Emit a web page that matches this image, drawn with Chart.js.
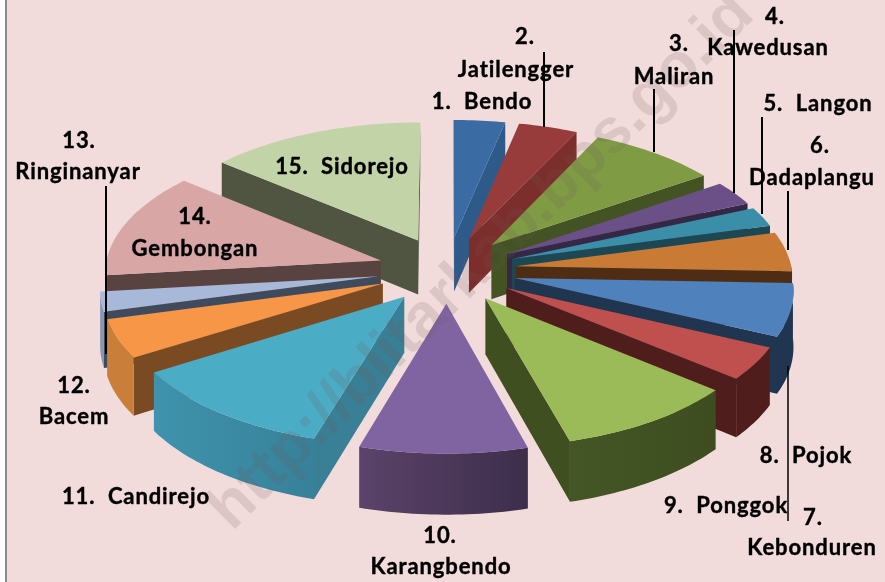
<!DOCTYPE html>
<html>
<head>
<meta charset="utf-8">
<style>
  html, body { margin: 0; padding: 0; background: #fff; }
  #pie { display: block; }
</style>
<script src="https://cdn.jsdelivr.net/npm/chart.js@4"></script>
</head>
<body>
<canvas id="pie" width="885" height="582"></canvas>
<script>
// villages, clockwise from the top
var categories = ['Bendo', 'Jatilengger', 'Maliran', 'Kawedusan', 'Langon', 'Dadaplangu', 'Kebonduren', 'Pojok',
  'Ponggok', 'Karangbendo', 'Candirejo', 'Bacem', 'Ringinanyar', 'Gembongan', 'Sidorejo'];
// share of the pie
var shares = [3.3, 3.8, 8.3, 3.0, 2.4, 4.8, 6.4, 4.0, 9.7, 8.9, 11.5, 4.7, 2.4, 12.9, 13.9];

var topColors = ['#3a6ca3', '#973c3a', '#7f9c45', '#6b5088', '#3b8ea7', '#c97b36', '#4f81bd', '#c0504d',
  '#9bbb59', '#8064a2', '#4bacc6', '#f79646', '#a7b8d8', '#d7a6a5', '#c3d3a8'];
var sideColors = ['#2e5a8a', '#7c2e2c', '#435324', '#352846', '#1d4753', '#4f2d15', '#1f3550', '#4f1e1c',
  '#3f4f20', '#4a3658', '#397f95', '#7a4b22', '#3f4a5c', '#584341', '#4f5540'];
// outer wall, left and right end of the gradient
var wallLeft = ['#2e5a8a', '#7c2e2c', '#435324', '#352846', '#1d4753', '#4f2d15', '#1f3550', '#4f1e1c',
  '#445626', '#5b4369', '#3f93ac', '#c97e3a', '#8795b0', '#584341', '#4f5540'];
var wallRight = ['#2e5a8a', '#7c2e2c', '#435324', '#352846', '#1d4753', '#4f2d15', '#1f3550', '#4f1e1c',
  '#3d4d1f', '#3d2e4c', '#37819a', '#c97e3a', '#8795b0', '#584341', '#4f5540'];

// x, y of each label; two lines when the number sits on its own row
var labelSpots = [
  [482, 102], [525, 37, 516, 70], [679, 44, 674, 77], [775, 17, 768, 48], [818, 104], [820, 146, 812, 178],
  [813, 518, 812, 548], [806, 456], [726, 506], [440, 536, 441, 567], [136, 497], [74, 386, 74, 417],
  [79, 141, 78, 172], [195, 217, 195, 249], [342, 167]
];
// leader lines: x, y from, y to, width
var leaders = [
  [544, 52, 127, 2], [654, 89, 152, 2], [734, 30, 193, 2], [762, 117, 214, 2], [788, 191, 250, 2],
  [788, 366, 521, 1.5], [106, 186, 354, 2]
];

var view = { cx: 447, cy: 270, a: 276, b: 132, k: 0.08, depth: 55 };

function project(u, v, z) {
  var w = 1 + view.k * v;
  return [view.cx + view.a * u / w, view.cy - (view.b * v - z * view.depth) / w];
}

function wedgePoint(e, bis, ang, rad, z) {
  return project(e * Math.cos(bis) + rad * Math.cos(ang), -e * Math.sin(bis) - rad * Math.sin(ang), z);
}

function trace(ctx, pts) {
  ctx.beginPath();
  pts.forEach(function(p, i) {
    if (i) ctx.lineTo(p[0], p[1]); else ctx.moveTo(p[0], p[1]);
  });
  ctx.closePath();
}

function arcPoints(e, bis, from, to, z) {
  var pts = [];
  var n = Math.max(2, Math.ceil(Math.abs(to - from) / 0.02));
  for (var i = 0; i <= n; i++) pts.push(wedgePoint(e, bis, from + (to - from) * i / n, 1, z));
  return pts;
}

function sideVisible(a, p, q) {
  var dx = p[0] - a[0], dy = p[1] - a[1];
  return (dx * (q[1] - a[1]) - dy * (q[0] - a[0])) * dx < 0;
}

function drawSlice(ctx, arc, i) {
  var e = arc.options.offset / arc.outerRadius;
  var s = arc.startAngle, t = arc.endAngle, bis = (s + t) / 2;
  var apex = wedgePoint(e, bis, 0, 0, 0), apexLow = wedgePoint(e, bis, 0, 0, 1);
  var ps = wedgePoint(e, bis, s, 1, 0), pt = wedgePoint(e, bis, t, 1, 0);

  ctx.fillStyle = sideColors[i];
  if (sideVisible(apex, ps, pt)) {
    trace(ctx, [apex, ps, wedgePoint(e, bis, s, 1, 1), apexLow]);
    ctx.fill();
  }
  if (sideVisible(apex, pt, ps)) {
    trace(ctx, [apex, pt, wedgePoint(e, bis, t, 1, 1), apexLow]);
    ctx.fill();
  }

  // outer wall, only the part that faces the viewer (angles 0..PI on the canvas)
  var from = Math.max(s, 0), to = Math.min(t, Math.PI);
  if (to > from) {
    var upper = arcPoints(e, bis, from, to, 0);
    var lower = arcPoints(e, bis, from, to, 1).reverse();
    var xs = upper.map(function(p) { return p[0]; });
    var g = ctx.createLinearGradient(Math.min.apply(null, xs), 0, Math.max.apply(null, xs), 0);
    g.addColorStop(0, wallLeft[i]);
    g.addColorStop(1, wallRight[i]);
    ctx.fillStyle = g;
    trace(ctx, upper.concat(lower));
    ctx.fill();
  }

  ctx.fillStyle = arc.options.backgroundColor;
  trace(ctx, [apex].concat(arcPoints(e, bis, s, t, 0)));
  ctx.fill();
}

var pie3d = {
  id: 'pie3d',
  beforeDraw: function(chart) {
    var ctx = chart.ctx;
    ctx.fillStyle = '#f2dcdb';
    ctx.fillRect(6, 0, 879, 582);
    ctx.fillStyle = '#8c8c8c';
    ctx.fillRect(5, 0, 2, 582);
  },
  beforeDatasetsDraw: function(chart) {
    var ctx = chart.ctx;
    var arcs = chart.getDatasetMeta(0).data.map(function(arc, i) { return { arc: arc, i: i }; });
    // back slices first, canvas angle -PI/2 is the far side
    arcs.sort(function(p, q) {
      return Math.sin((p.arc.startAngle + p.arc.endAngle) / 2) - Math.sin((q.arc.startAngle + q.arc.endAngle) / 2);
    });
    arcs.forEach(function(p) { drawSlice(ctx, p.arc, p.i); });
    return false;
  },
  afterDraw: function(chart) {
    var ctx = chart.ctx;
    ctx.save();
    ctx.translate(482, 262);
    ctx.rotate(-44.5 * Math.PI / 180);
    ctx.font = 'bold 63px "Liberation Sans"';
    ctx.textAlign = 'center';
    ctx.textBaseline = 'middle';
    ctx.fillStyle = 'rgba(110,90,90,0.17)';
    ctx.fillText('http://blitarkab.bps.go.id', 0, 0);
    ctx.restore();

    ctx.strokeStyle = '#000';
    leaders.forEach(function(l) {
      ctx.lineWidth = l[3];
      ctx.beginPath();
      ctx.moveTo(l[0], l[1]);
      ctx.lineTo(l[0], l[2]);
      ctx.stroke();
    });

    ctx.fillStyle = '#000';
    ctx.lineWidth = 0.4;
    ctx.font = 'bold 22px Lato';
    ctx.letterSpacing = '0.9px';
    ctx.textAlign = 'center';
    ctx.textBaseline = 'middle';
    function put(text, x, y) {
      ctx.fillText(text, x, y);
      ctx.strokeText(text, x, y);
    }
    categories.forEach(function(name, i) {
      var spot = labelSpots[i], num = (i + 1) + '.';
      if (spot.length === 2) {
        put(num + '  ' + name, spot[0], spot[1]);
      } else {
        put(num, spot[0], spot[1]);
        put(name, spot[2], spot[3]);
      }
    });
  }
};

new Chart(document.getElementById('pie'), {
  type: 'pie',
  data: {
    labels: categories,
    datasets: [{ data: shares, backgroundColor: topColors, borderWidth: 0, offset: 65 }]
  },
  options: {
    responsive: false,
    animation: false,
    plugins: { legend: { display: false }, tooltip: { enabled: false } }
  },
  plugins: [pie3d]
});
</script>
</body>
</html>
